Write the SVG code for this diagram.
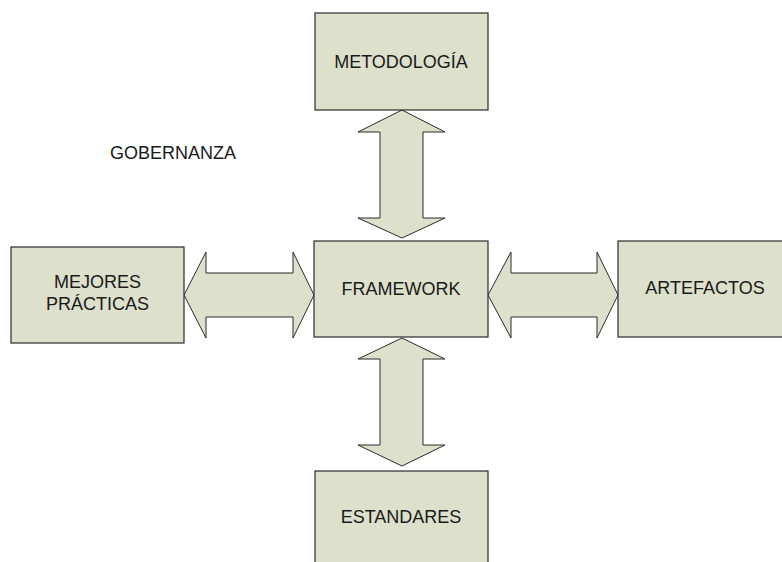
<svg xmlns="http://www.w3.org/2000/svg" width="782" height="562" viewBox="0 0 782 562">
  <style>
    .box { fill: #dde0cb; stroke: #2b2b2b; stroke-width: 1.2; }
    .arrow { fill: #dde0cb; stroke: #2b2b2b; stroke-width: 1; stroke-linejoin: miter; }
    .lbl { font-family: "Liberation Sans", Arial, sans-serif; font-size: 18px; fill: #1a1a1a; text-anchor: middle; }
  </style>
  <rect width="782" height="562" fill="#ffffff"/>

  <g id="connectors">
    <!-- METODOLOGÍA <-> FRAMEWORK -->
    <polygon class="arrow" points="402,110 445,132 423,132 423,218 445,218 402,238 358,218 380,218 380,132 358,132"/>
    <!-- FRAMEWORK <-> ESTANDARES -->
    <polygon class="arrow" points="402,338 445,359 423,359 423,445 445,445 402,466 358,445 380,445 380,359 358,359"/>
    <!-- MEJORES PRÁCTICAS <-> FRAMEWORK -->
    <polygon class="arrow" points="184,295 206,252 206,273 293,273 293,252 314,295 293,338 293,317 206,317 206,338"/>
    <!-- FRAMEWORK <-> ARTEFACTOS -->
    <polygon class="arrow" points="488,295 511,252 511,273 597,273 597,252 618,295 597,338 597,317 511,317 511,338"/>
  </g>

  <g id="metodologia">
    <rect class="box" x="315" y="13" width="173" height="97"/>
    <text class="lbl" x="401" y="68">METODOLOGÍA</text>
  </g>

  <g id="gobernanza">
    <text class="lbl" x="173" y="159">GOBERNANZA</text>
  </g>

  <g id="framework">
    <rect class="box" x="314" y="241" width="174" height="96"/>
    <text class="lbl" x="401" y="295">FRAMEWORK</text>
  </g>

  <g id="mejores-practicas">
    <rect class="box" x="11" y="247" width="173" height="96"/>
    <text class="lbl" x="97.5" y="288">MEJORES</text>
    <text class="lbl" x="97.5" y="310">PRÁCTICAS</text>
  </g>

  <g id="artefactos">
    <rect class="box" x="618" y="241" width="170" height="96"/>
    <text class="lbl" x="705" y="294">ARTEFACTOS</text>
  </g>

  <g id="estandares">
    <rect class="box" x="315" y="471" width="173" height="100"/>
    <text class="lbl" x="401" y="523">ESTANDARES</text>
  </g>
</svg>
